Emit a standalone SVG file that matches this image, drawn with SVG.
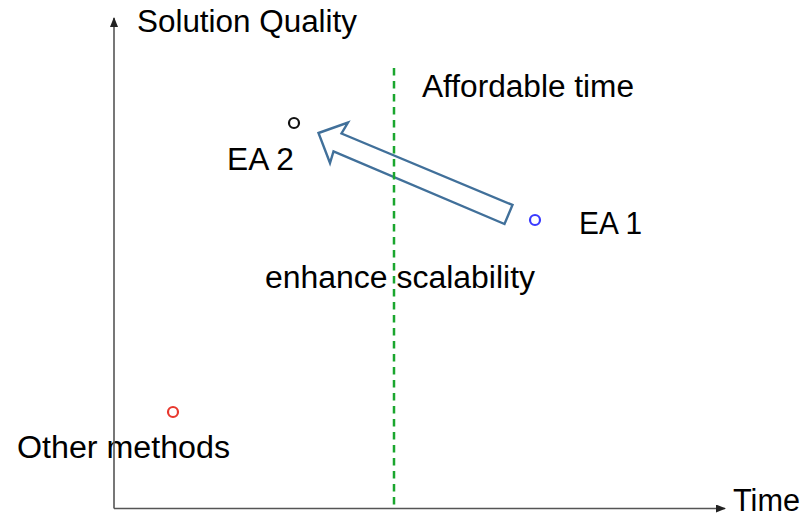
<svg xmlns="http://www.w3.org/2000/svg" width="804" height="517" viewBox="0 0 804 517">
  <defs>
    <style>
      .lbl { font-family: "Liberation Sans", Arial, sans-serif; font-size: 31px; fill: #000; }
      .axis { stroke: #555; stroke-width: 1.6; fill: none; }
      .pt { fill: none; stroke-width: 2.2; }
    </style>
    <marker id="axhead" viewBox="0 0 10 8" refX="9" refY="4" markerWidth="10" markerHeight="8" markerUnits="userSpaceOnUse" orient="auto">
      <path d="M0,0 L10,4 L0,8 Z" fill="#222"/>
    </marker>
  </defs>

  <rect width="804" height="517" fill="#fff"/>

  <!-- labels -->
  <g id="labels">
    <text class="lbl" x="137" y="32" textLength="220" lengthAdjust="spacingAndGlyphs">Solution Quality</text>
    <text class="lbl" x="422" y="97" textLength="212" lengthAdjust="spacingAndGlyphs">Affordable time</text>
    <text class="lbl" x="227" y="170" textLength="67" lengthAdjust="spacingAndGlyphs">EA 2</text>
    <text class="lbl" x="579" y="234" textLength="63" lengthAdjust="spacingAndGlyphs">EA 1</text>
    <text class="lbl" x="265" y="288" textLength="270" lengthAdjust="spacingAndGlyphs">enhance scalability</text>
    <text class="lbl" x="17" y="458" textLength="213" lengthAdjust="spacingAndGlyphs">Other methods</text>
    <text class="lbl" x="733" y="511" font-size="30" textLength="67" lengthAdjust="spacingAndGlyphs">Time</text>
  </g>

  <!-- axes, arrow and time limit -->
  <g id="connectors">
    <line class="axis" x1="114" y1="508.5" x2="114" y2="18" marker-end="url(#axhead)"/>
    <line class="axis" x1="114" y1="508.5" x2="725" y2="508.5" marker-end="url(#axhead)"/>
    <!-- scalability block arrow -->
    <polygon points="318.5,133 348,122.5 341.5,133.5 512.5,205 504.5,224 333.5,151.5 330,163" fill="#fff" stroke="#41709a" stroke-width="2.4" stroke-linejoin="miter"/>
    <!-- affordable time limit -->
    <line x1="394" y1="68" x2="394" y2="508" stroke="#1aa62e" stroke-width="2.5" stroke-dasharray="7.5,5.5"/>
  </g>

  <!-- data points -->
  <g id="ea2"><circle class="pt" cx="294" cy="123" r="5" stroke="#111"/></g>
  <g id="ea1"><circle class="pt" cx="535" cy="220" r="5" stroke="#3a3aff"/></g>
  <g id="other"><circle class="pt" cx="173" cy="412" r="5" stroke="#e8382e"/></g>
</svg>
